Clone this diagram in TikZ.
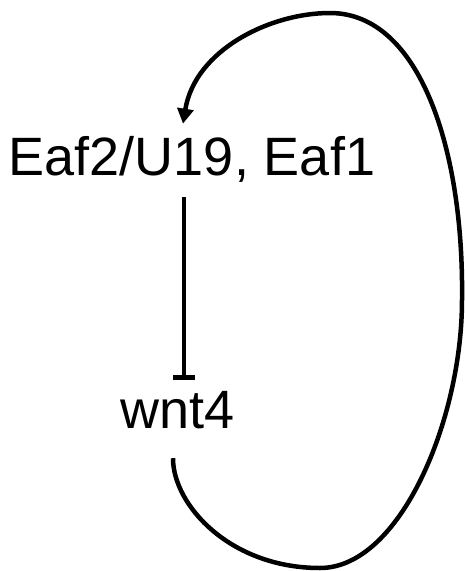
\documentclass[tikz,border=0pt]{standalone}
\usepackage{fontspec}
\setmainfont{Liberation Sans}
\usetikzlibrary{arrows.meta}
\begin{document}
\begin{tikzpicture}[x=1pt,y=-1pt,
  lbl/.style={inner sep=0pt, anchor=base, text depth=0pt, font=\fontsize{54}{60}\selectfont},
  inhib/.style={line width=4.5pt, -{Bar[width=22pt]}},
  act/.style={line width=4.5pt, -{Triangle[width=16pt,length=15pt]}}]
\useasboundingbox (0,0) rectangle (465,571);
\node[lbl] (eaf) at (192,175) {Eaf2/U19, Eaf1};
\node[lbl] (wnt) at (177.5,428) {wnt4};
\draw[inhib] ([xshift=-8pt,yshift=-22pt]eaf.south) -- ([xshift=6.5pt,yshift=11pt]wnt.north);
\coordinate (s) at ([xshift=-4.5pt,yshift=-30pt]wnt.south);
\coordinate (e) at ([xshift=-9pt,yshift=12pt]eaf.north);
\draw[act] (s) .. controls (173,505) and (230,568) .. (320,568)
  .. controls (400,568) and (462,420) .. (462,300)
  .. controls (464,150) and (420,13) .. (330,13)
  .. controls (270,13) and (195,50) .. (e);
\end{tikzpicture}
\end{document}
